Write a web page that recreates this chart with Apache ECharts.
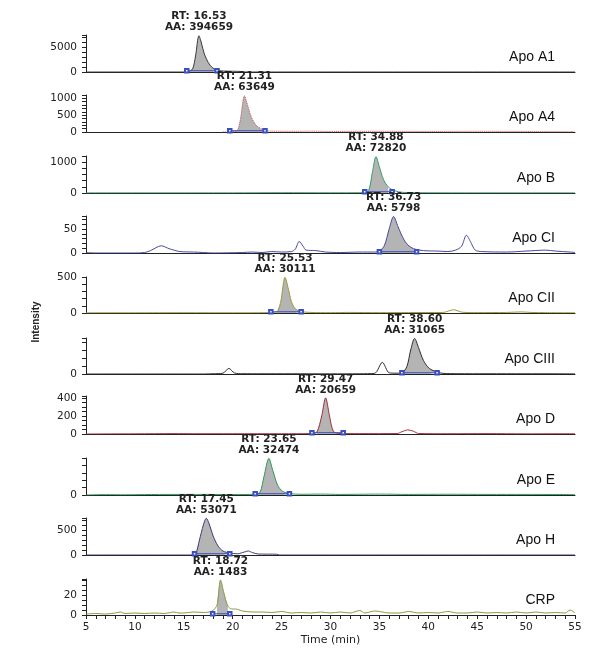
<!DOCTYPE html>
<html>
<head>
<meta charset="utf-8">
<script src="https://cdn.jsdelivr.net/npm/echarts@6/dist/echarts.min.js"></script>
<style>html,body{margin:0;padding:0;background:#fff}#chart{width:600px;height:667px}</style>
</head>
<body>
<div id="chart"></div>
<script>
// ---------------- DATA ----------------
const panelNames = ['Apo A1', 'Apo A4', 'Apo B', 'Apo CI', 'Apo CII', 'Apo CIII', 'Apo D', 'Apo E', 'Apo H', 'CRP'];
const rtValues = ['16.53', '21.31', '34.88', '36.73', '25.53', '38.60', '29.47', '23.65', '17.45', '18.72'];
const aaValues = ['394659', '63649', '72820', '5798', '30111', '31065', '20659', '32474', '53071', '1483'];
// integration windows (start, end) in minutes
const peakWindows = [[15.3, 18.4], [19.7, 23.3], [33.5, 36.3], [35.0, 38.8], [23.9, 27.0], [37.3, 40.9], [28.1, 31.3], [22.3, 25.8], [16.1, 19.7], [17.95, 19.7]];
const xTickLabels = [5, 10, 15, 20, 25, 30, 35, 40, 45, 50, 55];
const yTickLabels = [[0, 5000], [0, 500, 1000], [0, 1000], [0, 50], [0, 500], [0], [0, 200, 400], [0], [0, 500], [0, 20]];

const traceA1 = [[5,0],[15.0,0],[15.5,150],[15.9,600],[16.2,3200],[16.55,7250],[16.8,5800],[17.1,3600],[17.5,1900],[17.9,900],[18.4,350],[19.0,200],[20.0,150],[20.9,100],[21.2,0],[55,0]];
const traceA4 = [[19.0,0],[20.0,10],[20.5,60],[20.8,400],[21.2,1080],[21.5,820],[21.9,450],[22.4,200],[23.0,80],[23.5,40],[24,25],[26,20],[28,25],[30,15],[33,20],[36,20],[40,15],[45,20],[50,15],[55,10]];
const traceB = [[5,5],[20,5],[25,10],[30,8],[33.3,10],[33.9,80],[34.3,700],[34.65,1180],[35.0,850],[35.4,450],[35.9,200],[36.5,80],[37.4,20],[40,8],[45,5],[50,5],[55,5]];
const traceCI = [[5,1],[6,0],[10,0],[11,1],[11.6,5],[12.7,15],[13.5,9],[14.6,3],[16,2],[17,1],[18,0],[21,1],[22,2],[23,1],[24,3],[25,2],[26,3],[26.4,8],[26.8,24],[27.2,14],[27.5,6],[28.5,5],[29.5,2],[31,1],[33,2],[34.5,2],[35,4],[35.5,15],[36.0,50],[36.45,76],[36.9,55],[37.4,32],[37.9,17],[38.5,9],[39.5,5],[41,4],[42,3],[42.8,6],[43.4,14],[43.9,37],[44.3,24],[44.8,6],[45.5,3],[48,2],[50,4],[52,6],[53,4],[54.5,2],[55,1]];
const traceCII = [[5,3],[10,3],[15,4],[20,3],[23.5,5],[24.5,15],[24.9,150],[25.35,495],[25.7,330],[26.0,160],[26.4,60],[27,20],[28,8],[30,5],[32,8],[35,5],[38,6],[41.5,8],[42.6,45],[43.5,10],[45,6],[48,8],[49.5,15],[50.5,8],[52,5],[55,3]];
const traceCIII = [[5,0],[17,0],[18,30],[19.0,100],[19.6,700],[20.2,120],[21,40],[23,30],[26,30],[30,20],[33,30],[34.5,80],[35.3,1450],[36.0,150],[36.8,100],[37.3,150],[37.8,900],[38.2,3000],[38.6,4450],[39.0,3300],[39.5,1700],[40.1,700],[40.9,250],[41.5,80],[43,40],[46,30],[50,30],[55,20]];
const traceD = [[5,0],[10,2],[14,4],[16,3],[20,3],[25,3],[28.0,4],[28.6,20],[29.1,200],[29.5,400],[29.9,200],[30.3,30],[31,5],[33,4],[36.8,5],[37.3,25],[37.9,45],[38.5,30],[39.0,5],[42,3],[46,4],[50,2],[55,3]];
const traceE = [[5,0],[7,5],[9,3],[11,6],[14,8],[17,8],[20,6],[22.3,10],[22.8,40],[23.2,250],[23.7,495],[24.1,330],[24.6,130],[25.1,50],[25.8,20],[27,10],[29,12],[31,8],[33,10],[35,12],[38,8],[42,10],[46,8],[50,8],[55,6]];
const traceH = [[5,0],[15.5,0],[16.2,30],[16.6,300],[17.0,600],[17.3,735],[17.6,620],[18.0,380],[18.5,180],[19.0,80],[19.7,40],[20.5,25],[21.2,60],[21.6,80],[22.0,50],[22.6,20],[24.5,15],[24.8,0],[55,0]];
const traceCRP = [[5,1],[6,1.5],[7,1],[8,2],[8.5,3],[9,1.5],[10,2],[11,1.5],[12,2],[13,1.5],[14,3],[14.5,2],[15,2],[16,3],[17,2.5],[17.9,4],[18.4,10],[18.75,35],[19.1,22],[19.5,9],[19.9,6],[20.3,6],[21,4],[22,3],[23,3],[24,2.5],[25,3.5],[26,2],[27,2.5],[28,2],[29,3],[30,2],[31,3],[32,2],[33,4.5],[33.5,2],[34.5,4],[35,3.5],[36,2],[37,2],[38,3.5],[39,2],[40,2.5],[41,2],[42,3.5],[43,2],[44,2],[45,3],[46,2],[47,2.5],[48,2],[49,3],[50,2],[51,3],[52,2],[53,2.5],[54,2],[54.5,5],[55,2]];
const traces = [traceA1, traceA4, traceB, traceCI, traceCII, traceCIII, traceD, traceE, traceH, traceCRP];

// ---------------- LAYOUT / STYLE ----------------
const panelTop = [35, 95, 156, 216, 277, 338, 396, 458, 518, 579];
const panelBottom = [72, 132, 193, 253, 313, 374, 434, 495, 555, 615];
const yMax = [7400, 1100, 1200, 77, 500, 4500, 420, 500, 740, 36];
const yStep = [1000, 100, 200, 10, 100, 1000, 50, 100, 100, 5];
const traceColors = ['#3a3a3a', '#c0484c', '#3a9e6e', '#4848a0', '#9a9a3a', '#2e2e2e', '#a0303a', '#2a9a5a', '#3c3c78', '#8a9a40'];
const traceDash = ['solid', 'dotted', 'solid', 'solid', 'solid', 'solid', 'solid', 'solid', 'solid', 'solid'];
const axisColor = '#222';
const numFont = 'DejaVu Sans';
const textFont = 'Liberation Sans';

const grids = [], xAxes = [], yAxes = [], series = [], titles = [];
const n = panelNames.length;
for (let i = 0; i < n; i++) {
  const last = i === n - 1;
  grids.push({ left: 86, right: 25, top: panelTop[i], height: panelBottom[i] - panelTop[i] });
  xAxes.push({
    type: 'value', gridIndex: i, min: 5, max: 55, interval: 5,
    axisLine: { show: true, onZero: false, lineStyle: { color: axisColor, width: 1 } },
    axisTick: { show: last, length: 4, lineStyle: { color: axisColor } },
    minorTick: { show: last, splitNumber: 5, length: 4, lineStyle: { color: axisColor } },
    axisLabel: { show: last, fontFamily: numFont, fontSize: 10.5, color: '#222', margin: 7,
      formatter: v => xTickLabels.includes(v) ? String(v) : '' },
    splitLine: { show: false },
    name: last ? 'Time (min)' : '', nameLocation: 'middle', nameGap: 20,
    nameTextStyle: { fontFamily: numFont, fontSize: 11, color: '#222' }
  });
  const labs = yTickLabels[i];
  yAxes.push({
    type: 'value', gridIndex: i, min: 0, max: yMax[i], interval: yStep[i],
    axisLine: { show: true, lineStyle: { color: axisColor, width: 1 } },
    axisTick: { show: true, length: 4, lineStyle: { color: axisColor } },
    axisLabel: { fontFamily: numFont, fontSize: 10.5, color: '#222', margin: 9,
      formatter: v => labs.includes(v) ? String(v) : '' },
    splitLine: { show: false }
  });
  const tr = traces[i];
  const [ws, we] = peakWindows[i];
  const inWin = tr.filter(p => p[0] >= ws && p[0] <= we);
  let peak = inWin[0];
  inWin.forEach(p => { if (p[1] > peak[1]) peak = p; });
  // gray integrated area
  series.push({
    type: 'line', xAxisIndex: i, yAxisIndex: i, data: inWin, smooth: 0.3,
    showSymbol: false, silent: true, z: 2,
    lineStyle: { width: 0 }, areaStyle: { color: '#b4b4b4', opacity: 1 }
  });
  // trace
  series.push({
    type: 'line', xAxisIndex: i, yAxisIndex: i, data: tr, smooth: 0.3,
    showSymbol: false, silent: true, z: 3,
    lineStyle: { color: traceColors[i], width: 1, type: traceDash[i] },
    markPoint: {
      symbol: 'circle', symbolSize: 1, itemStyle: { color: 'rgba(0,0,0,0)' },
      label: { show: true, position: 'top', distance: 2, fontFamily: numFont, fontWeight: 'bold',
        fontSize: 10.5, lineHeight: 11, color: '#222',
        formatter: 'RT: ' + rtValues[i] + '\nAA: ' + aaValues[i] },
      data: [{ coord: peak }]
    }
  });
  // integration baseline box
  const h = yMax[i] * 0.035;
  series.push({
    type: 'line', xAxisIndex: i, yAxisIndex: i, data: [[ws, h], [we, h]],
    symbol: 'emptyRect', symbolSize: 3.5, showSymbol: true, silent: true, z: 4,
    lineStyle: { color: '#3a4fc0', width: 1 }, itemStyle: { color: '#3a4fc0', borderWidth: 1 }
  });
  // peak outline over the gray fill, in trace colour
  titles.push({ text: panelNames[i], right: 45, top: panelBottom[i] - 22, padding: 0,
    textStyle: { fontFamily: textFont, fontSize: 14, fontWeight: 'normal', color: '#111' } });
}

const chart = echarts.init(document.getElementById('chart'), null, { renderer: 'canvas' });
chart.setOption({
  animation: false,
  backgroundColor: '#fff',
  title: titles,
  grid: grids, xAxis: xAxes, yAxis: yAxes, series: series,
  graphic: [{ type: 'text', x: 36, y: 322, rotation: Math.PI / 2,
    style: { text: 'Intensity', fontFamily: textFont, fontSize: 10, fontWeight: 'bold', fill: '#222',
      textAlign: 'center', textVerticalAlign: 'middle' } }]
});
</script>
</body>
</html>
